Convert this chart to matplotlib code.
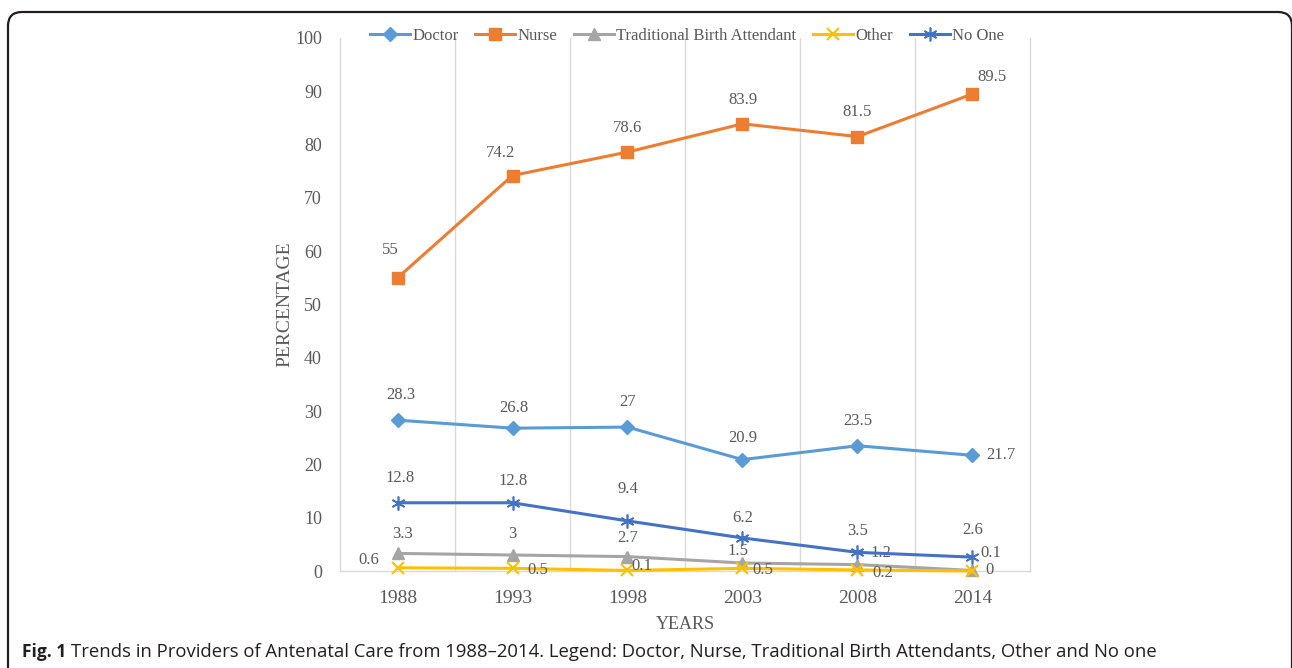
import matplotlib
matplotlib.use("Agg")
import matplotlib.pyplot as plt
from matplotlib.patches import FancyBboxPatch

# data
years = ["1988", "1993", "1998", "2003", "2008", "2014"]
doctor = [28.3, 26.8, 27, 20.9, 23.5, 21.7]
nurse = [55, 74.2, 78.6, 83.9, 81.5, 89.5]
tba = [3.3, 3, 2.7, 1.5, 1.2, 0.1]
other = [0.6, 0.5, 0.1, 0.5, 0.2, 0]
no_one = [12.8, 12.8, 9.4, 6.2, 3.5, 2.6]

series_names = ["Doctor", "Nurse", "Traditional Birth Attendant", "Other", "No One"]
series_values = [doctor, nurse, tba, other, no_one]

# styles (colour, marker, marker size, marker edge width) and label offsets in pixels
styles = [
    ("#5B9BD5", "D", 7, 1),
    ("#ED7D31", "s", 8, 1),
    ("#A5A5A5", "^", 8, 1),
    ("#FFC000", "x", 9, 1.5),
    ("#4472C4", (6, 2, 0), 10, 1.2),
]
label_offsets = [
    [(3, 25), (1, 20), (0, 25), (0, 22), (0, 25), (28, 0)],
    [(-7, 28), (-12, 23), (0, 24), (0, 24), (0, 25), (20, 17)],
    [(5, 19), (0, 21), (0, 19), (-5, 12), (23, 12), (18, 17)],
    [(-29, 8), (25, -2), (14, 4), (20, -2), (25, -3), (17, 1)],
    [(3, 25), (1, 22), (0, 32), (0, 20), (0, 21), (0, 27)],
]

W, H = 1292, 668
text_grey = "#595959"
serif = "Liberation Serif"

fig = plt.figure(figsize=(W / 100, H / 100), dpi=100)
ax = fig.add_axes([340 / W, 1 - 571 / H, 690 / W, 533 / H])

x = list(range(len(years)))
handles = []
for name, vals, (col, mk, ms, mew), offs in zip(series_names, series_values, styles, label_offsets):
    h, = ax.plot(x, vals, color=col, lw=2.2, marker=mk, ms=ms, mew=mew,
                 mec=col, mfc=col, label=name, clip_on=False, zorder=3)
    handles.append(h)
    for xi, v, (dx, dy) in zip(x, vals, offs):
        ax.annotate("%g" % v, (xi, v), xytext=(dx, dy), textcoords="offset pixels",
                    ha="center", va="center", fontsize=12, color=text_grey, family=serif)

ax.set_xlim(-0.5, len(years) - 0.5)
ax.set_ylim(0, 100)
ax.set_yticks(range(0, 101, 10))
ax.set_xticks(x)
ax.set_xticklabels(years)
for lab in ax.get_xticklabels():
    lab.set_fontsize(14)
for lab in ax.get_yticklabels():
    lab.set_fontsize(13)
ax.tick_params(length=0, colors=text_grey, labelfontfamily=serif)
ax.tick_params(axis="y", pad=13)
ax.tick_params(axis="x", pad=14)

for xv in [i + 0.5 for i in x[:-1]]:
    ax.axvline(xv, color="#D9D9D9", lw=1, zorder=0)
for side in ["left", "right", "bottom"]:
    ax.spines[side].set_color("#D9D9D9")
    ax.spines[side].set_linewidth(1)
ax.spines["top"].set_visible(False)

ax.set_xlabel("YEARS", fontsize=13, color=text_grey, family=serif, labelpad=6)
ax.set_ylabel("PERCENTAGE", fontsize=14, color=text_grey, family=serif, labelpad=1)

fig.legend(handles=handles, loc="center", bbox_to_anchor=(687 / W, 1 - 36 / H), ncol=5,
           frameon=False, prop={"family": serif, "size": 12}, labelcolor=text_grey,
           handlelength=2.4, handletextpad=0.15, columnspacing=1.0)

# rounded frame around the figure panel
frame = FancyBboxPatch((8, -40), 1284, 696, boxstyle="round,pad=0,rounding_size=14",
                       transform=None, fill=False, ec="#231f20", lw=1.6)
fig.patches.append(frame)

t = fig.text(22 / W, 1 - 652 / H, "Fig. 1", fontsize=12.5, fontweight="bold",
             family="Open Sans", color="#231f20", va="center")
ax.annotate("Trends in Providers of Antenatal Care from 1988\u20132014. Legend: Doctor, Nurse, "
            "Traditional Birth Attendants, Other and No one",
            xy=(1, 0.5), xycoords=t, xytext=(5, 0), textcoords="offset pixels",
            va="center", fontsize=13.3, family="Open Sans", color="#231f20", annotation_clip=False)

fig.savefig("out.png", dpi=100)
